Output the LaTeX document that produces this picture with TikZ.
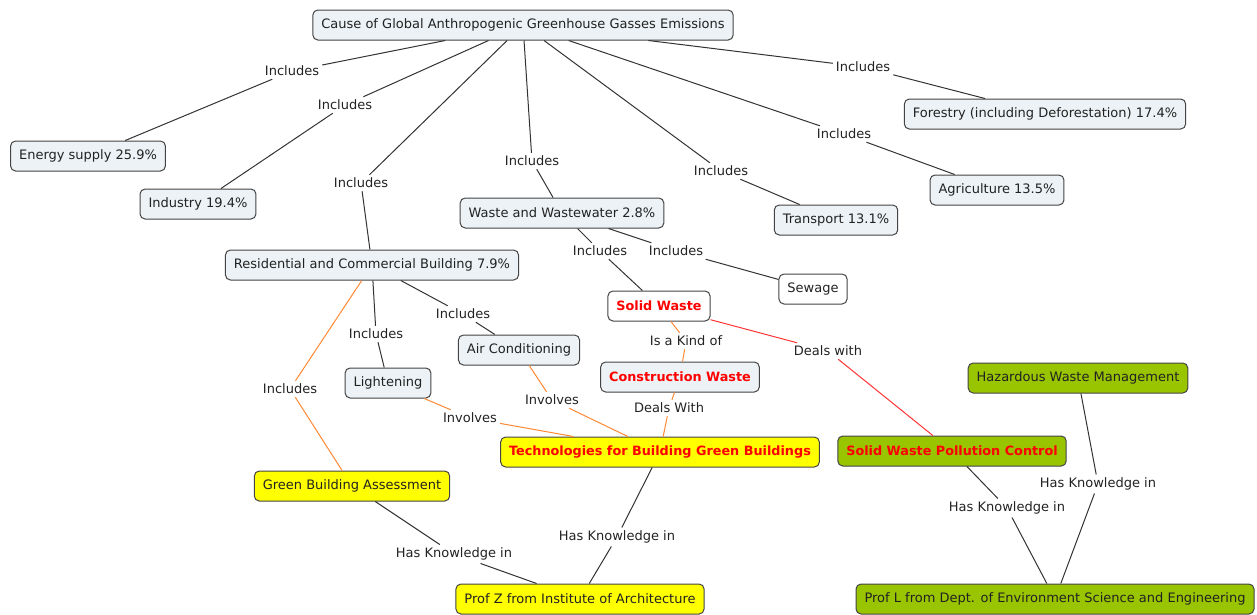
\documentclass[tikz,border=0pt]{standalone}
\usepackage{fontspec}
\setmainfont{DejaVu Sans}
\definecolor{ink}{HTML}{222222}
\definecolor{boxline}{HTML}{444444}
\definecolor{paleblue}{HTML}{ECF2F5}
\definecolor{yellowfill}{HTML}{FFFF00}
\definecolor{greenfill}{HTML}{99C400}
\definecolor{hotred}{HTML}{FF0000}
\definecolor{linkgray}{HTML}{333333}
\definecolor{linkorange}{HTML}{FF8833}
\definecolor{linkred}{HTML}{FF3333}
\tikzset{
  txt/.style={font=\fontsize{13}{15}\selectfont},
  box/.style={txt, draw=boxline, rounded corners=5pt, line width=1pt,
    minimum height=30pt, inner xsep=8.5pt, text=ink},
  plain/.style={box, fill=paleblue},
  blank/.style={box, fill=white},
  ylw/.style={box, fill=yellowfill},
  grn/.style={box, fill=greenfill},
  hot/.style={text=hotred, font=\fontsize{12.8}{15}\selectfont\bfseries},
  lbl/.style={txt, text=ink, inner sep=3pt},
  link/.style={draw=linkgray, line width=1pt},
  olink/.style={draw=linkorange, line width=1pt},
  rlink/.style={draw=linkred, line width=1pt},
}
\begin{document}
\begin{tikzpicture}[x=1pt, y=-1pt]
\useasboundingbox (0,0) rectangle (1257,614);

% concepts
\node[plain] (cause) at (523,25) {Cause of Global Anthropogenic Greenhouse Gasses Emissions};
\node[plain] (energy) at (88,156) {Energy supply 25.9\%};
\node[plain] (industry) at (198,204) {Industry 19.4\%};
\node[plain] (resid) at (372,265) {Residential and Commercial Building 7.9\%};
\node[plain] (waste) at (562,213) {Waste and Wastewater 2.8\%};
\node[plain] (transport) at (836,220) {Transport 13.1\%};
\node[plain] (agri) at (997,190) {Agriculture 13.5\%};
\node[plain] (forest) at (1045,114) {Forestry (including Deforestation) 17.4\%};
\node[blank] (sewage) at (813,289) {Sewage};
\node[blank, hot] (solid) at (659,306) {Solid Waste};
\node[plain, hot] (constr) at (680,377) {Construction Waste};
\node[plain] (aircon) at (519,350) {Air Conditioning};
\node[plain] (light) at (388,383) {Lightening};
\node[ylw, hot] (tech) at (660,452) {Technologies for Building Green Buildings};
\node[ylw] (gba) at (352,486) {Green Building Assessment};
\node[ylw] (profz) at (580,599) {Prof Z from Institute of Architecture};
\node[grn, hot] (swpc) at (952,451) {Solid Waste Pollution Control};
\node[grn] (hazard) at (1078,378) {Hazardous Waste Management};
\node[grn] (profl) at (1055,599) {Prof L from Dept. of Environment Science and Engineering};

% linking phrases
\node[lbl] (l1) at (292,71) {Includes};
\node[lbl] (l2) at (345,105) {Includes};
\node[lbl] (l3) at (361,183) {Includes};
\node[lbl] (l4) at (532,161) {Includes};
\node[lbl] (l5) at (721,171) {Includes};
\node[lbl] (l6) at (844,134) {Includes};
\node[lbl] (l7) at (863,67) {Includes};
\node[lbl] (l8) at (600,251) {Includes};
\node[lbl] (l9) at (676,251) {Includes};
\node[lbl] (l10) at (376,334) {Includes};
\node[lbl] (l11) at (463,314) {Includes};
\node[lbl] (l12) at (290,389) {Includes};
\node[lbl] (l13) at (686,341) {Is a Kind of};
\node[lbl] (l14) at (828,351) {Deals with};
\node[lbl] (l15) at (552,400) {Involves};
\node[lbl] (l16) at (470,418) {Involves};
\node[lbl] (l17) at (669,408) {Deals With};
\node[lbl] (l18) at (617,537) {Has Knowledge in};
\node[lbl] (l19) at (454,554) {Has Knowledge in};
\node[lbl] (l20) at (1007,508) {Has Knowledge in};
\node[lbl] (l21) at (1098,484) {Has Knowledge in};

% connectors
\draw[link] (cause) -- (l1) -- (energy);
\draw[link] (cause) -- (l2) -- (industry);
\draw[link] (cause) -- (l3) -- (resid);
\draw[link] (cause) -- (l4) -- (waste);
\draw[link] (cause) -- (l5) -- (transport);
\draw[link] (cause) -- (l6) -- (agri);
\draw[link] (cause) -- (l7) -- (forest);
\draw[link] (waste) -- (l8) -- (solid);
\draw[link] (waste) -- (l9) -- (sewage);
\draw[link] (resid) -- (l10) -- (light);
\draw[link] (resid) -- (l11) -- (aircon);
\draw[olink] (resid) -- (l12) -- (gba);
\draw[olink] (solid) -- (l13) -- (constr);
\draw[rlink] (solid) -- (l14) -- (swpc);
\draw[olink] (aircon) -- (l15) -- (tech);
\draw[olink] (light) -- (l16) -- (tech);
\draw[olink] (constr) -- (l17) -- (tech);
\draw[link] (tech) -- (l18) -- (profz);
\draw[link] (gba) -- (l19) -- (profz);
\draw[link] (swpc) -- (l20) -- (profl);
\draw[link] (hazard) -- (l21) -- (profl);
\end{tikzpicture}
\end{document}
